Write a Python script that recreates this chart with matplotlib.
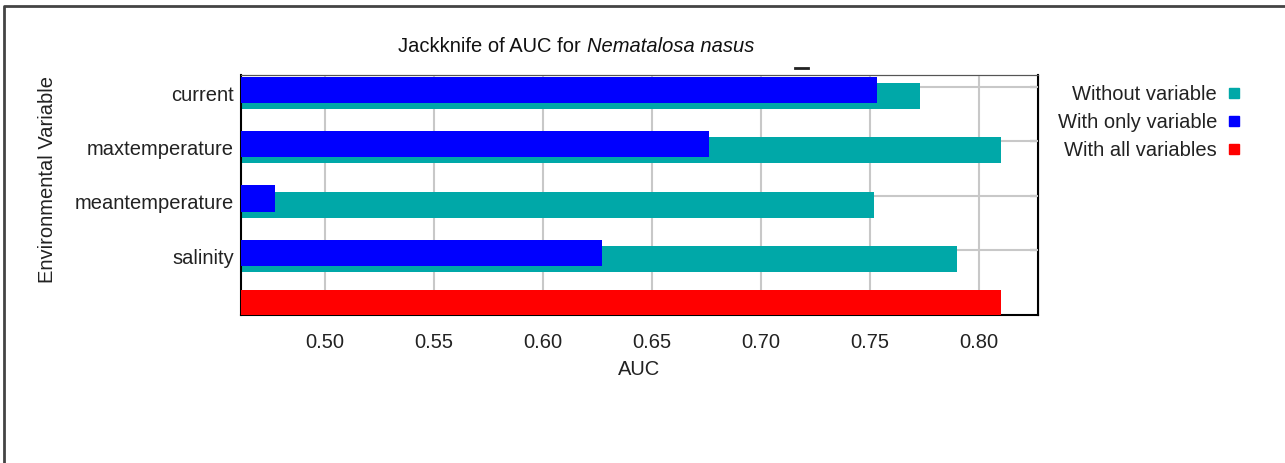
"""Jackknife test of variable importance (AUC) for Nematalosa nasus."""

import matplotlib
matplotlib.use("Agg")
import matplotlib.pyplot as plt
from matplotlib.lines import Line2D
from matplotlib.patches import Rectangle

variables = ["current", "maxtemperature", "meantemperature", "salinity"]
auc_without = [0.773, 0.810, 0.752, 0.790]
auc_only = [0.753, 0.676, 0.477, 0.627]
auc_all = 0.810
xticks = [0.50, 0.55, 0.60, 0.65, 0.70, 0.75, 0.80]

legend_labels = ["Without variable", "With only variable", "With all variables"]
TEAL = "#00a8a8"
BLUE = "#0000ff"
RED = "#ff0000"
legend_colors = [TEAL, BLUE, RED]

W, H = 1285, 464
plt.rcParams["font.family"] = ["Liberation Sans", "DejaVu Sans"]
fig = plt.figure(figsize=(W / 100, H / 100), dpi=100)
ax = fig.add_axes([241 / W, 1 - 316 / H, 797 / W, 240 / H])

base = 0.45
rows = list(range(len(variables)))
ax.barh([r + 0.166 for r in rows], [v - base for v in auc_without], left=base,
        height=0.48, color=TEAL, zorder=2)
ax.barh([r + 0.055 for r in rows], [v - base for v in auc_only], left=base,
        height=0.48, color=BLUE, zorder=3)
ax.barh([len(variables) - 0.03], [auc_all - base], left=base,
        height=0.46, color=RED, zorder=3)

ax.set_xlim(0.4615, 0.827)
ax.set_ylim(4.2, -0.22)

# horizontal grid on the right-hand ticks, labels sit a little lower
for r in rows:
    ax.axhline(r, color="#c8c8c8", lw=1.5, zorder=1)
ax.set_xticks(xticks)
ax.set_xticklabels([f"{t:.2f}" for t in xticks])
ax.grid(axis="x", color="#c8c8c8", lw=1.5, zorder=1)
ax.set_axisbelow(True)

ax.set_yticks([r + 0.1 for r in rows])
ax.set_yticklabels(variables)
ax.tick_params(axis="y", length=0, pad=5, labelsize=14.5, colors="#222222")
ax.tick_params(axis="x", length=0, pad=12, labelsize=14.5, colors="#222222")

right = ax.secondary_yaxis("right")
right.set_yticks(rows)
right.tick_params(direction="in", length=6, width=1.5, labelright=False)
right.spines["right"].set_linewidth(1.5)

top = ax.secondary_xaxis("top")
top.set_xticks(xticks)
top.tick_params(direction="in", length=3, width=1.2, labeltop=False)
top.spines["top"].set_color("#555555")

for s in ["left", "bottom"]:
    ax.spines[s].set_linewidth(1.5)
ax.spines["top"].set_color("#555555")

ax.set_xlabel("AUC", fontsize=14.5, color="#222222", labelpad=6)
ax.set_ylabel("Environmental Variable", fontsize=14.5, color="#222222", va="center")
ax.yaxis.set_label_coords(-0.243, 0.567)

# title: plain part and italic species name
fig.text(586 / W, 1 - 46 / H, "Jackknife of AUC for ", ha="right", va="center",
         fontsize=14.5, color="#111111")
fig.text(587 / W, 1 - 46 / H, "Nematalosa nasus", ha="left", va="center",
         fontsize=14.5, style="italic", color="#111111")

fig.add_artist(Line2D([795 / W, 808 / W], [1 - 69 / H] * 2,
                      transform=fig.transFigure, color="#222222", lw=2))

for i, (lab, col) in enumerate(zip(legend_labels, legend_colors)):
    y = 1 - (94 + 28 * i) / H
    fig.text(1217 / W, y, lab, ha="right", va="center", fontsize=14.5,
             color="#222222")
    fig.add_artist(Rectangle((1229 / W, y - 5 / H), 10 / W, 10 / H,
                             transform=fig.transFigure, color=col))

# outer frame (left and top edges)
fig.add_artist(Line2D([4 / W, 4 / W, 1], [0, 1 - 7 / H, 1 - 7 / H],
                      transform=fig.transFigure, color="#444444", lw=2))

fig.savefig("out.png", dpi=100)
